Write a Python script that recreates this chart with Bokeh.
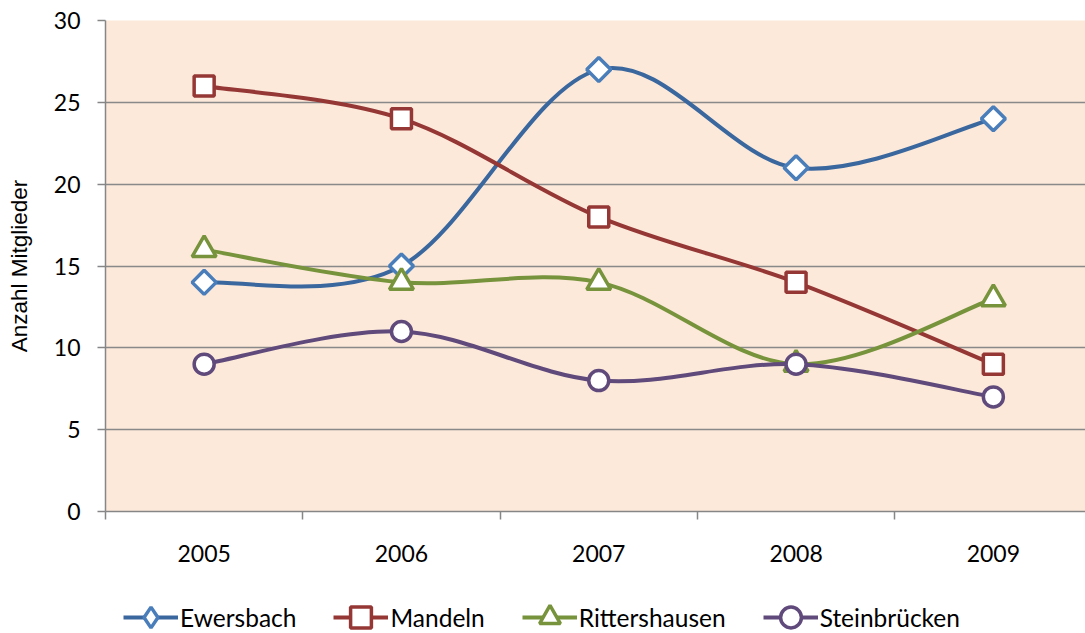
import math
from bokeh.plotting import figure
from bokeh.layouts import column
from bokeh.models import (ColumnDataSource, FixedTicker, Legend, LegendItem, Range1d)
from bokeh.embed import file_html
from bokeh.resources import INLINE

years = ["2005", "2006", "2007", "2008", "2009"]
ewersbach = [14, 15, 27, 21, 24]
mandeln = [26, 24, 18, 14, 9]
rittershausen = [16, 14, 14, 9, 13]
steinbruecken = [9, 11, 8, 9, 7]

series = [
    ("Ewersbach", ewersbach, "#3A679E", "#4A7EBB", "square", 17, math.pi / 4, "diamond"),
    ("Mandeln", mandeln, "#953735", "#953735", "square", 20, 0, "square"),
    ("Rittershausen", rittershausen, "#77933C", "#77933C", "triangle", 24, 0, "triangle"),
    ("Steinbrücken", steinbruecken, "#5F4A7B", "#5F4A7B", "circle", 20, 0, "circle"),
]

FONT = "Lato"

p = figure(width=1085, height=575, output_backend="svg", toolbar_location=None,
           x_range=Range1d(-0.5, 4.467), y_range=Range1d(0, 30),
           min_border_left=105, min_border_right=0, min_border_top=20,
           min_border_bottom=64)
p.background_fill_color = "#FCE9DA"
p.border_fill_color = "white"
p.outline_line_color = None

# legend-only figure below the chart
lg = figure(width=1085, height=58, output_backend="svg", toolbar_location=None,
            x_range=Range1d(-0.5, 4.467), y_range=Range1d(0, 30),
            min_border_left=0, min_border_right=0, min_border_top=0,
            min_border_bottom=0)
lg.axis.visible = False
lg.grid.visible = False
lg.outline_line_color = None
lg.background_fill_color = "white"
lg.border_fill_color = "white"

xs = list(range(len(years)))


def bezier_source(vals):
    n = len(vals)
    pts = list(zip(xs, vals))
    d = dict(x0=[], y0=[], x1=[], y1=[], cx0=[], cy0=[], cx1=[], cy1=[])
    for i in range(n - 1):
        p0 = pts[max(i - 1, 0)]
        p1 = pts[i]
        p2 = pts[i + 1]
        p3 = pts[min(i + 2, n - 1)]
        d["x0"].append(p1[0]); d["y0"].append(p1[1])
        d["x1"].append(p2[0]); d["y1"].append(p2[1])
        d["cx0"].append(p1[0] + (p2[0] - p0[0]) / 6)
        d["cy0"].append(p1[1] + (p2[1] - p0[1]) / 6)
        d["cx1"].append(p2[0] - (p3[0] - p1[0]) / 6)
        d["cy1"].append(p2[1] - (p3[1] - p1[1]) / 6)
    return ColumnDataSource(d)


items = []
for name, vals, lc, mc, marker, size, ang, lmarker in series:
    src = bezier_source(vals)
    p.bezier("x0", "y0", "x1", "y1", "cx0", "cy0", "cx1", "cy1", source=src,
             line_color=lc, line_width=4, line_cap="round")
    p.scatter(xs, vals, marker=marker, size=size, angle=ang, fill_color="white",
              line_color=mc, line_width=3.5)
    # legend renderers (hidden, used only for the legend glyphs)
    lb = lg.line(xs, vals, line_color=lc, line_width=4, visible=False)
    ls = lg.scatter(xs, vals, marker=lmarker, size=size, fill_color="white",
                    line_color=mc, line_width=3.5, visible=False)
    items.append(LegendItem(label=name, renderers=[lb, ls]))

# axes
p.xaxis.ticker = FixedTicker(ticks=xs, minor_ticks=[-0.5, 0.5, 1.5, 2.5, 3.5, 4.5])
p.xaxis.major_label_overrides = {i: y for i, y in enumerate(years)}
p.xaxis.major_tick_out = 0
p.xaxis.major_tick_in = 0
p.xaxis.minor_tick_out = 8
p.xaxis.minor_tick_in = 0
p.xaxis.minor_tick_line_color = "#868686"
p.xaxis.minor_tick_line_width = 1.5
p.xaxis.axis_line_color = "#868686"
p.xaxis.axis_line_width = 1.5
p.xaxis.major_label_standoff = 25
p.xaxis.major_label_text_font = FONT
p.xaxis.major_label_text_font_size = "23px"
p.xaxis.major_label_text_color = "black"

p.yaxis.ticker = FixedTicker(ticks=[0, 5, 10, 15, 20, 25, 30], minor_ticks=[])
p.yaxis.major_tick_out = 8
p.yaxis.major_tick_in = 0
p.yaxis.major_tick_line_color = "#868686"
p.yaxis.major_tick_line_width = 1.5
p.yaxis.axis_line_color = "#868686"
p.yaxis.axis_line_width = 1.5
p.yaxis.major_label_standoff = 17
p.yaxis.major_label_text_font = FONT
p.yaxis.major_label_text_font_size = "23px"
p.yaxis.major_label_text_color = "black"
p.yaxis.axis_label = "Anzahl Mitglieder"
p.yaxis.axis_label_text_font = "Liberation Sans"
p.yaxis.axis_label_text_font_size = "22.5px"
p.yaxis.axis_label_text_font_style = "normal"
p.yaxis.axis_label_text_color = "black"
p.yaxis.axis_label_standoff = 19

p.xgrid.visible = False
p.ygrid.ticker = FixedTicker(ticks=[5, 10, 15, 20, 25, 30])
p.ygrid.grid_line_color = "#898989"
p.ygrid.grid_line_width = 1.5

legend = Legend(items=items, orientation="horizontal", location=(18, -10),
                glyph_width=55, glyph_height=52, label_standoff=2, spacing=37,
                padding=0, margin=0, border_line_color=None,
                background_fill_alpha=0, label_text_font=FONT,
                label_text_font_size="24.5px", label_text_color="black")
lg.add_layout(legend, "center")

layout = column(p, lg, spacing=0)
open("out.html", "w").write(file_html(layout, INLINE))
